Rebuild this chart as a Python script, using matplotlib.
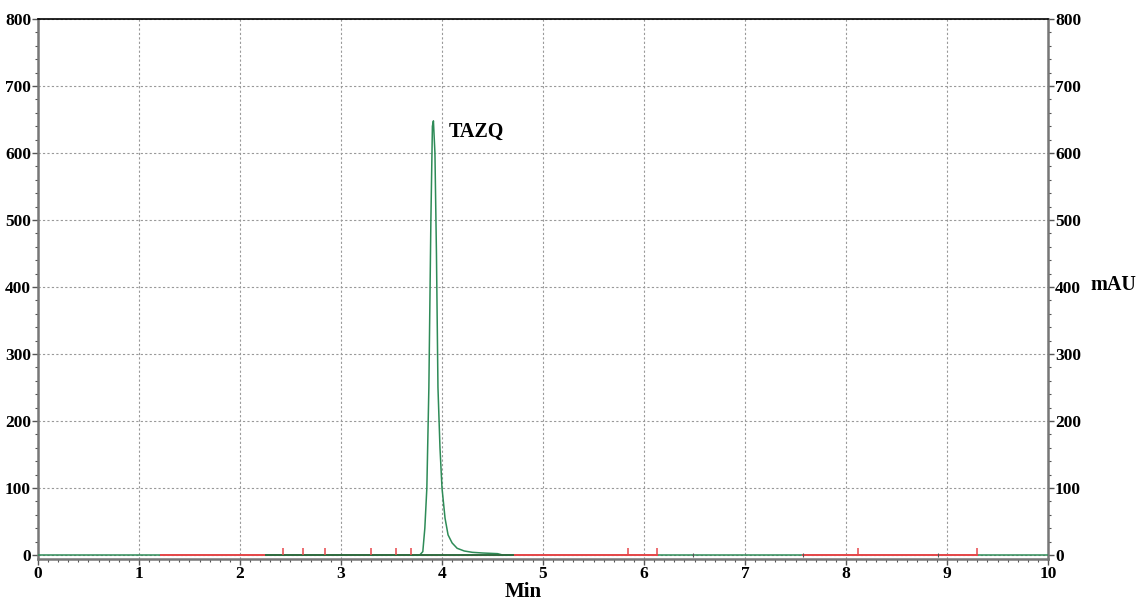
import matplotlib.pyplot as plt
from matplotlib.ticker import MultipleLocator

# chromatogram trace (min, mAU)
time = [0.0, 3.78, 3.81, 3.83, 3.85, 3.87, 3.89, 3.905, 3.915, 3.93, 3.945,
        3.96, 3.98, 4.0, 4.03, 4.06, 4.1, 4.15, 4.22, 4.3, 4.4, 4.55, 4.6, 10.0]
signal = [0, 0, 5, 40, 100, 250, 500, 640, 648, 600, 450,
          250, 160, 100, 55, 30, 18, 10, 6, 4, 3, 2, 0, 0]

# integration baseline segments (start, end)
red_segments = [(1.22, 2.26), (4.70, 6.13), (7.57, 9.30)]
dark_segments = [(2.26, 4.70)]
# event marks along baseline
event_marks = [2.43, 2.62, 2.84, 3.30, 3.54, 3.69, 5.84, 6.13, 8.12, 9.30]
small_marks = [6.49, 7.57, 8.91]

peak_label = "TAZQ"
peak_label_pos = (4.07, 632)

plt.rcParams["font.family"] = ["Liberation Serif", "DejaVu Serif"]
plt.rcParams["font.weight"] = "bold"

fig = plt.figure(figsize=(11.41, 6.02), dpi=100)
ax = fig.add_axes([0.0333, 0.0714, 0.8852, 0.897])

ax.plot(time, signal, color="#2e8b57", lw=1.1, zorder=3)

for a, b in red_segments:
    ax.plot([a, b], [0, 0], color="#e8474a", lw=1.4, zorder=4)
for a, b in dark_segments:
    ax.plot([a, b], [0, 0], color="#2f6b3f", lw=1.4, zorder=4)
ax.plot([3.80, 4.60], [0, 0], color="#e8474a", lw=0.8, ls=(0, (2, 2)), zorder=2)
ax.vlines(event_marks, 0, 11, color="#e8474a", lw=1.1, zorder=4)
ax.vlines(small_marks, -3, 3, color="#555555", lw=0.8, zorder=4)

ax.text(*peak_label_pos, peak_label, fontsize=14.5, fontweight="bold",
        ha="left", va="center")

ax.set_xlim(0, 10)
ax.set_ylim(-6, 800)
ax.xaxis.set_major_locator(MultipleLocator(1))
ax.xaxis.set_minor_locator(MultipleLocator(0.1))
ax.yaxis.set_major_locator(MultipleLocator(100))
ax.yaxis.set_minor_locator(MultipleLocator(20))
ax.grid(True, which="major", color="#999999", ls=(0, (2, 2)), lw=0.8)

ax.tick_params(axis="both", which="both", direction="out", labelsize=12.5,
               right=True, labelright=True, colors="#555555", labelcolor="black")
ax.tick_params(axis="both", which="major", length=4, width=1)
ax.tick_params(axis="both", which="minor", length=2.5, width=0.8)
ax.tick_params(axis="y", pad=1)
ax.tick_params(axis="x", pad=1)
for lab in ax.get_xticklabels() + ax.get_yticklabels():
    lab.set_fontweight("bold")

for side in ["left", "right", "bottom"]:
    ax.spines[side].set_color("#777777")
    ax.spines[side].set_linewidth(1.8)
ax.spines["top"].set_color("black")
ax.spines["top"].set_linewidth(1.2)

ax.set_xlabel("Min", fontsize=15, fontweight="bold", va="center")
ax.xaxis.set_label_coords(0.48, -0.062)
fig.text(0.976, 0.527, "mAU", fontsize=14.5, fontweight="bold", ha="center", va="center")

fig.savefig("out.png", dpi=100)
